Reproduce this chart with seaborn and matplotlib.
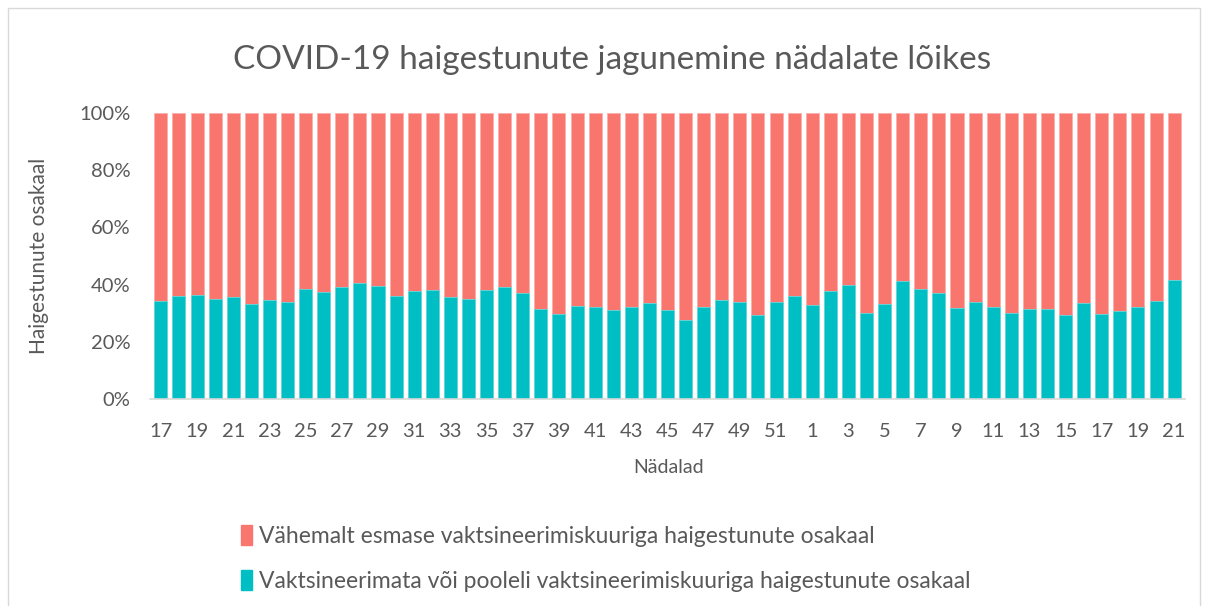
import pandas as pd
import seaborn as sns
import matplotlib.pyplot as plt
from matplotlib.patches import Rectangle
from matplotlib.ticker import PercentFormatter


#=========================
# DATA
#=========================

# Weeks 17-52 (2021) and 1-21 (2022)
weeks_2021 = list(range(17, 53))
weeks_2022 = list(range(1, 22))

# Share (%) of cases unvaccinated or with incomplete vaccination course
unvaccinated = [
    34.3, 35.9, 36.4, 35.0, 35.7, 33.3, 34.6, 33.8, 38.6, 37.3,
    39.0, 40.7, 39.4, 35.9, 37.6, 38.0, 35.5, 34.8, 38.2, 39.0,
    37.2, 31.5, 29.6, 32.4, 32.3, 31.1, 32.2, 33.4, 31.1, 27.5,
    32.0, 34.5, 34.0, 29.4, 34.0, 35.9,
    32.7, 37.9, 39.9, 29.9, 33.3, 41.1, 38.5, 37.2, 31.7, 33.9,
    32.0, 30.1, 31.4, 31.3, 29.5, 33.6, 29.8, 30.6, 32.0, 34.1,
    41.7,
]

title = "COVID-19 haigestunute jagunemine nädalate lõikes"
label_vacc = "Vähemalt esmase vaktsineerimiskuuriga haigestunute osakaal"
label_unvacc = "Vaktsineerimata või pooleli vaktsineerimiskuuriga haigestunute osakaal"

# Build frame (unique key per bar, since week numbers repeat across years)
df = pd.DataFrame({
    "key": [f"2021-{w}" for w in weeks_2021] + [f"2022-{w}" for w in weeks_2022],
    "week": weeks_2021 + weeks_2022,
    "unvacc": unvaccinated,
})
df["vacc"] = 100 - df["unvacc"]
df["total"] = df["unvacc"] + df["vacc"]

coral = "#F8766D"
teal = "#00BFC4"
text_col = "#595959"

sns.set_style("white")
plt.rcParams["font.family"] = ["Lato", "DejaVu Sans"]

fig = plt.figure(figsize=(12.08, 6.06), dpi=100)
ax = fig.add_axes([150 / 1208, 1 - 399 / 606, 1035 / 1208, 286 / 606])

# Stacked bars: full-height coral first, teal bottom part on top
sns.barplot(data=df, x="key", y="total", color=coral, width=0.72,
            edgecolor="#fbb0aa", linewidth=0.6, saturation=1, ax=ax)
sns.barplot(data=df, x="key", y="unvacc", color=teal, width=0.72,
            edgecolor="#66d9dc", linewidth=0.6, saturation=1, ax=ax)

ax.set_ylim(0, 100)
ax.set_yticks(range(0, 101, 20))
ax.yaxis.set_major_formatter(PercentFormatter(decimals=0))
ax.set_xlim(-0.6, len(df) - 0.4)
ax.set_xticks(range(0, len(df), 2))
ax.set_xticklabels(df["week"].iloc[::2])
ax.tick_params(axis="both", length=0, labelsize=14.5, colors=text_col)
ax.tick_params(axis="x", pad=17)
ax.tick_params(axis="y", pad=14)

ax.set_xlabel("Nädalad", fontsize=14, color=text_col)
ax.set_ylabel("Haigestunute osakaal", fontsize=15, color=text_col)
ax.xaxis.set_label_coords(0.501, -0.21)
ax.yaxis.set_label_coords(-0.098, 0.5)

for s in ["top", "right", "left"]:
    ax.spines[s].set_visible(False)
ax.spines["bottom"].set_color("#d9d9d9")
ax.spines["bottom"].set_linewidth(1.2)

fig.text(0.507, 1 - 60 / 606, title, ha="center", va="center",
         fontsize=24, color=text_col)

# Legend
handles = [Rectangle((0, 0), 1, 1, color=coral), Rectangle((0, 0), 1, 1, color=teal)]
fig.legend(handles, [label_vacc, label_unvacc], loc="upper left",
           bbox_to_anchor=(220 / 1208, 1 - 504 / 606), frameon=False,
           fontsize=16.5, labelcolor=text_col, handlelength=0.5,
           handleheight=1.0, handletextpad=0.3, labelspacing=1.0)

# Chart area border
fig.patches.append(Rectangle((8 / 1208, -0.01), 1192 / 1208, 1 - 8 / 606 + 0.01,
                             transform=fig.transFigure, fill=False,
                             edgecolor="#d9d9d9", linewidth=1))

plt.savefig("out.png", dpi=100)
